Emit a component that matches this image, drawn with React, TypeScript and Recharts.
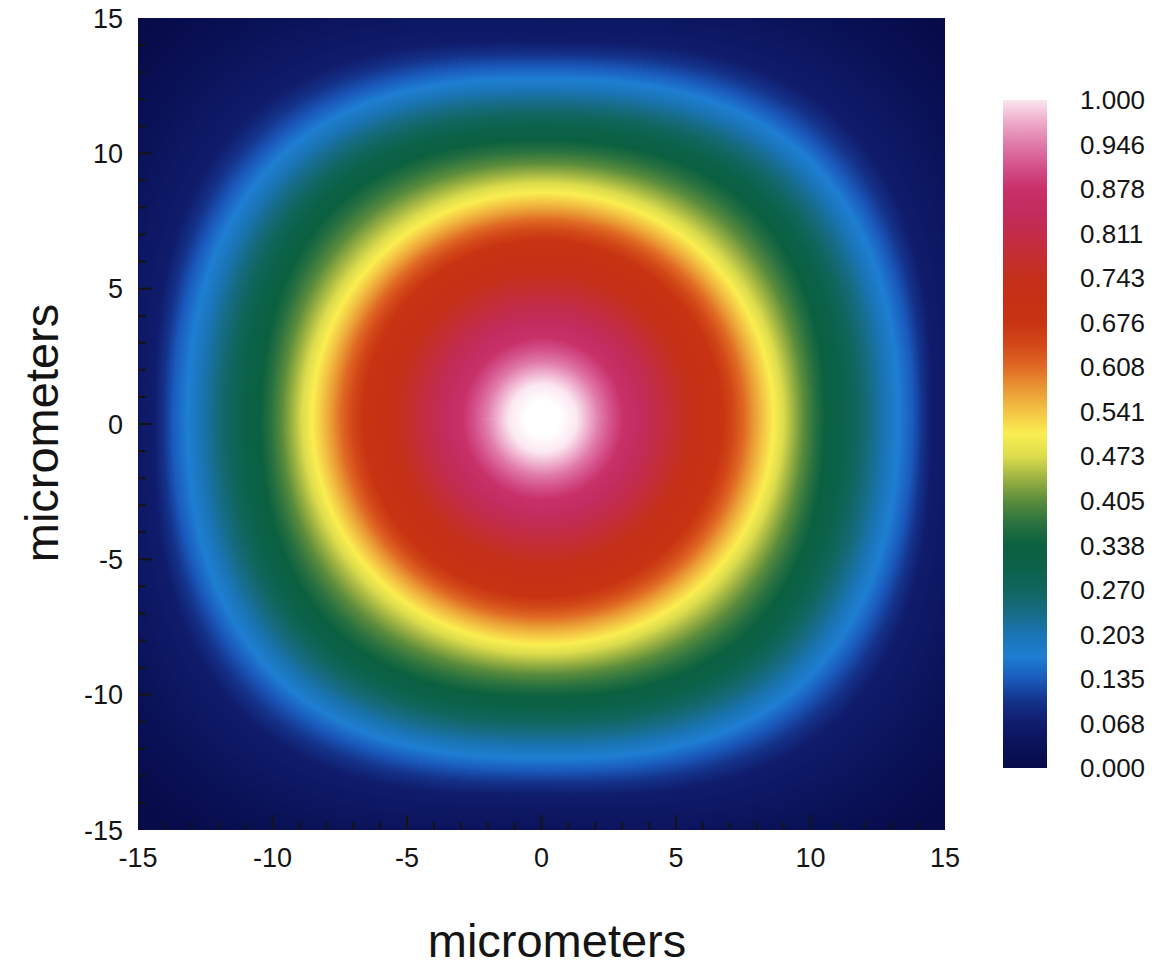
import React from 'react'
import { ScatterChart, Scatter, XAxis, YAxis, BarChart, Bar } from 'recharts'

const FONT = '"Liberation Sans", Arial, Helvetica, sans-serif'
const INK = '#141414'

// colour bar labels, bottom to top (evenly spaced along the bar)
const legendLabels = [
  '0.000', '0.068', '0.135', '0.203', '0.270', '0.338', '0.405', '0.473',
  '0.541', '0.608', '0.676', '0.743', '0.811', '0.878', '0.946', '1.000',
]

// colour ramp sampled every half label step, bottom to top
const colorRamp = [
  '#070b4a', '#0a1258', '#101c6c', '#14328a', '#1a5abc', '#1e7ed2', '#1a74b4',
  '#166c84', '#10665e', '#0b6249', '#0a6040', '#2a7240', '#5a8c3c', '#9cb242',
  '#dcdc4c', '#faee50', '#f4c444', '#ea9a34', '#e06a24', '#d24818', '#c83412',
  '#c63014', '#c4301a', '#c42e32', '#c22c4a', '#c22c5e', '#c83068', '#d4508a',
  '#e07aa8', '#eeaaca', '#fbe6ef',
]
const peakColor = '#ffffff'

// intensity contours (normalized), outermost first; one per colour bar label
const contourLevels = [
  0.000, 0.068, 0.135, 0.203, 0.270, 0.338, 0.405, 0.473,
  0.541, 0.608, 0.676, 0.743, 0.811, 0.878, 0.946,
]
// contour extent in micrometers: along x, along y, and along the diagonals
const contourHalfWidth = [17.5, 14.45, 13.75, 12.7, 11.7, 10.5, 9.7, 8.95, 8.2, 7.5, 6.7, 5.4, 4.2, 3.0, 2.1]
const contourHalfHeight = [16.8, 13.9, 13.0, 12.1, 11.2, 10.3, 9.45, 8.7, 8.0, 7.35, 6.6, 5.35, 4.15, 3.0, 2.1]
const contourDiagonal = [20.5, 15.6, 14.3, 13.2, 12.1, 11.0, 9.9, 8.9, 8.15, 7.45, 6.65, 5.4, 4.2, 3.0, 2.1]
const beamCenter = { x: 0.05, y: 0.2 }

const axisMin = -15
const axisMax = 15
const axisTicks = Array.from({ length: axisMax - axisMin + 1 }, (_, i) => axisMin + i)

// field series: beam centre, two plot corners, then eight points per contour
// (axis crossings and diagonals, counter-clockwise from +x)
const fieldPoints = [
  { x: beamCenter.x, y: beamCenter.y },
  { x: axisMin, y: axisMin },
  { x: axisMax, y: axisMax },
  ...contourLevels.flatMap((level, i) => {
    const a = contourHalfWidth[i]
    const b = contourHalfHeight[i]
    const d = contourDiagonal[i] / Math.SQRT2
    return [
      [a, 0], [d, d], [0, b], [-d, d], [-a, 0], [-d, -d], [0, -b], [d, -d],
    ].map(([x, y]) => ({ x: beamCenter.x + x, y: beamCenter.y + y, level }))
  }),
]

const legendBar = [{ name: 'intensity', span: [0, legendLabels.length - 1] }]
const legendTicks = legendLabels.map((_, i) => i)

type Pt = { x: number; y: number }

const WEDGES = 360

// periodic Catmull-Rom through the eight radii of one contour
function ringRadius(ring: number[], deg: number) {
  const t = (((deg % 360) + 360) % 360) / 45
  const k = Math.floor(t)
  const u = t - k
  const p0 = ring[(k + 7) % 8]
  const p1 = ring[k % 8]
  const p2 = ring[(k + 1) % 8]
  const p3 = ring[(k + 2) % 8]
  return 0.5 * (
    2 * p1 +
    (p2 - p0) * u +
    (2 * p0 - 5 * p1 + 4 * p2 - p3) * u * u +
    (3 * p1 - p0 - 3 * p2 + p3) * u * u * u
  )
}

// paints the colour field as thin wedges, each with a radial gradient whose
// stops sit on the contour radii in that direction
function renderField(props: any) {
  const pts: Pt[] = props.points || []
  const n = contourLevels.length
  if (pts.length < 3 + n * 8) return <g />
  const c = pts[0]
  const lo = pts[1]
  const hi = pts[2]
  const rings = contourLevels.map((_, i) =>
    pts.slice(3 + i * 8, 11 + i * 8).map(p => Math.hypot(p.x - c.x, p.y - c.y)),
  )
  const R = Math.hypot(hi.x - lo.x, hi.y - lo.y)
  const step = 360 / WEDGES
  const pad = 0.35
  const defs: React.ReactNode[] = []
  const paths: React.ReactNode[] = []

  for (let j = 0; j < WEDGES; j++) {
    const mid = (j + 0.5) * step
    const r = rings.map(ring => ringRadius(ring, mid))
    const core = r[n - 1]
    const stops: [number, string][] = [
      [0, peakColor],
      [0.3 * core, peakColor],
      [0.6 * core, colorRamp[30]],
      [0.82 * core, colorRamp[29]],
    ]
    for (let k = n - 1; k >= 0; k--) {
      stops.push([r[k], colorRamp[2 * k]])
      if (k > 0) stops.push([(r[k] + r[k - 1]) / 2, colorRamp[2 * k - 1]])
    }
    const id = `field-${j}`
    defs.push(
      <radialGradient key={id} id={id} gradientUnits="userSpaceOnUse" cx={c.x} cy={c.y} r={R}>
        {stops.map(([o, col], s) => (
          <stop key={s} offset={Math.min(1, o / R)} stopColor={col} />
        ))}
      </radialGradient>,
    )
    const a0 = ((j * step - pad) * Math.PI) / 180
    const a1 = (((j + 1) * step + pad) * Math.PI) / 180
    const d = `M${c.x},${c.y} L${c.x + R * Math.cos(a0)},${c.y - R * Math.sin(a0)} L${c.x + R * Math.cos(a1)},${c.y - R * Math.sin(a1)}Z`
    paths.push(<path key={id} d={d} fill={`url(#${id})`} stroke="none" />)
  }

  const x0 = Math.min(lo.x, hi.x)
  const y0 = Math.min(lo.y, hi.y)
  return (
    <g>
      <defs>
        <clipPath id="field-clip">
          <rect x={x0} y={y0} width={Math.abs(hi.x - lo.x)} height={Math.abs(hi.y - lo.y)} />
        </clipPath>
        {defs}
      </defs>
      <g clipPath="url(#field-clip)">{paths}</g>
    </g>
  )
}

const noMarker = () => <g />

// ticks at the frame ends fall on the plot edge and are left out
const isEdge = (v: number) => v === axisMin || v === axisMax

function BottomTick(props: any) {
  const { x, y, payload } = props
  const major = payload.value % 5 === 0
  return (
    <g>
      {!isEdge(payload.value) && (
        <line x1={x} y1={y} x2={x} y2={y - (major ? 15 : 8)} stroke={INK} strokeWidth={2} />
      )}
      {major && (
        <text x={x} y={y + 37} textAnchor="middle" fontSize={27} fontFamily={FONT} fill={INK}>
          {payload.value}
        </text>
      )}
    </g>
  )
}

function LeftTick(props: any) {
  const { x, y, payload } = props
  const major = payload.value % 5 === 0
  return (
    <g>
      {!isEdge(payload.value) && (
        <line x1={x} y1={y} x2={x + (major ? 14 : 8)} y2={y} stroke={INK} strokeWidth={2} />
      )}
      {major && (
        <text x={x - 15} y={y} dy="0.36em" textAnchor="end" fontSize={27} fontFamily={FONT} fill={INK}>
          {payload.value}
        </text>
      )}
    </g>
  )
}

export default function App() {
  return (
    <div style={{ position: 'absolute', left: 0, top: 0, width: 1166, height: 969, background: '#fff' }}>
      <div style={{ position: 'absolute', left: 0, top: 0 }}>
        <ScatterChart width={960} height={900} margin={{ top: 18, right: 15, bottom: 69, left: 137 }}>
          <Scatter
            data={fieldPoints}
            line={renderField}
            shape={noMarker}
            isAnimationActive={false}
          />
          <XAxis
            type="number"
            dataKey="x"
            domain={[axisMin, axisMax]}
            ticks={axisTicks}
            interval={0}
            height={1}
            tickSize={0}
            tickMargin={0}
            axisLine={false}
            tickLine={false}
            allowDataOverflow
            tick={(p: any) => <BottomTick {...p} />}
            zIndex={800}
          />
          <YAxis
            type="number"
            dataKey="y"
            domain={[axisMin, axisMax]}
            ticks={axisTicks}
            interval={0}
            width={1}
            tickSize={0}
            tickMargin={0}
            axisLine={false}
            tickLine={false}
            allowDataOverflow
            tick={(p: any) => <LeftTick {...p} />}
            zIndex={800}
          />
        </ScatterChart>
      </div>

      <div style={{ position: 'absolute', left: 990, top: 80 }}>
        <BarChart
          width={176}
          height={720}
          data={legendBar}
          margin={{ top: 20, right: 118, bottom: 32, left: 13 }}
          barCategoryGap={0}
        >
          <defs>
            <linearGradient id="ramp" x1="0" y1="1" x2="0" y2="0">
              {colorRamp.map((c, i) => (
                <stop key={i} offset={i / (colorRamp.length - 1)} stopColor={c} />
              ))}
            </linearGradient>
          </defs>
          <XAxis dataKey="name" hide />
          <YAxis
            orientation="right"
            type="number"
            domain={[0, legendLabels.length - 1]}
            ticks={legendTicks}
            interval={0}
            width={1}
            tickLine={false}
            axisLine={false}
            tickMargin={27}
            tickFormatter={(v: number) => legendLabels[v]}
            tick={{ fontSize: 26, fill: INK, fontFamily: FONT }}
          />
          <Bar dataKey="span" fill="url(#ramp)" isAnimationActive={false} />
        </BarChart>
      </div>

      <svg
        width={1166}
        height={969}
        style={{ position: 'absolute', left: 0, top: 0, pointerEvents: 'none' }}
      >
        <text x={557} y={957} textAnchor="middle" fontSize={47} fontFamily={FONT} fill={INK}>
          micrometers
        </text>
        <text
          x={58}
          y={433}
          transform="rotate(-90 58 433)"
          textAnchor="middle"
          fontSize={47}
          fontFamily={FONT}
          fill={INK}
        >
          micrometers
        </text>
      </svg>
    </div>
  )
}
